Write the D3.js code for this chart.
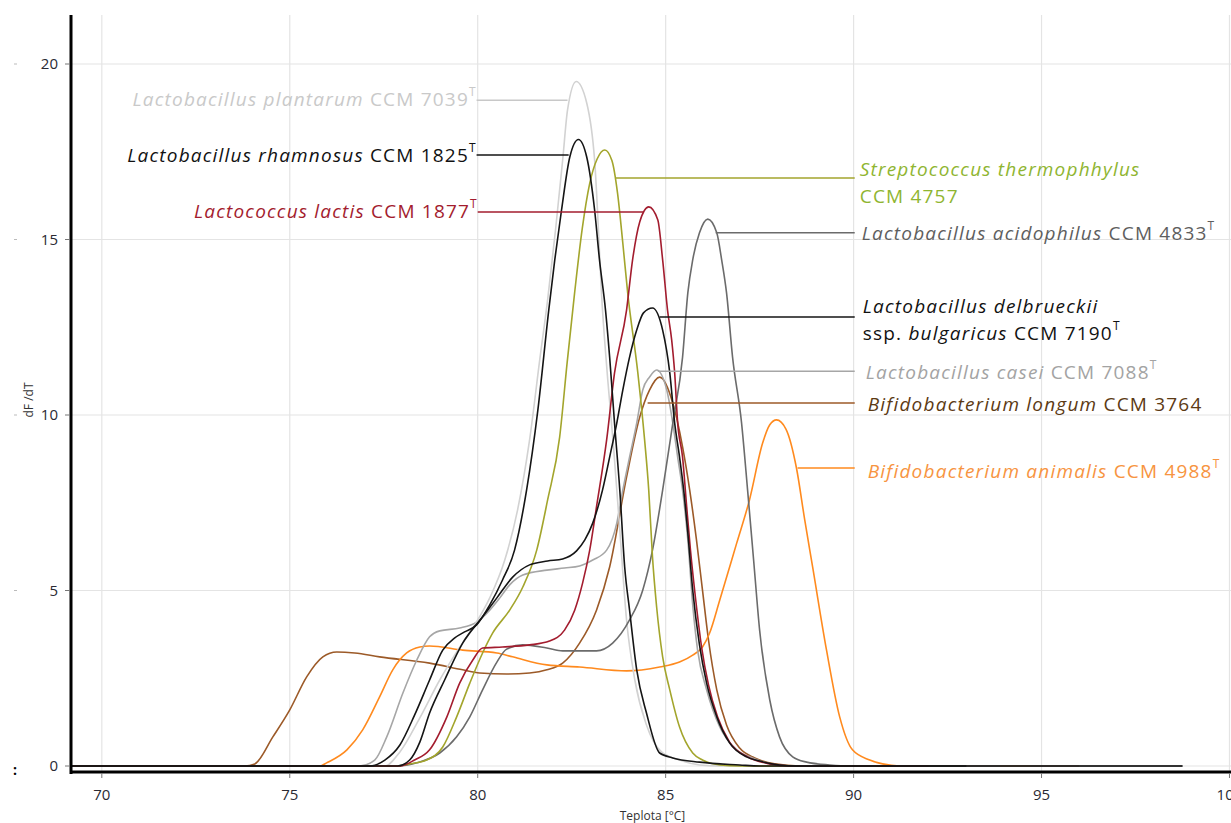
<!DOCTYPE html>
<html>
<head>
<meta charset="utf-8">
<script src="https://cdn.jsdelivr.net/npm/d3@7"></script>
<style>
  body { margin: 0; background: #fff; }
  svg { display: block; font-family: "Open Sans", sans-serif; }
</style>
</head>
<body>
<svg id="chart" width="1231" height="823"></svg>
<script>
// melting curves, [temperature °C, dF/dT]
const xTicks = [70, 75, 80, 85, 90, 95, 100];
const yTicks = [0, 5, 10, 15, 20];

const longum = [[69.2,0],[73.8,0],[74.07,0.06],[74.55,0.83],[75.0,1.6],[75.45,2.54],[75.88,3.11],[76.25,3.25],[76.73,3.22],
  [77.39,3.11],[78.72,2.93],[79.6,2.74],[80.05,2.65],[80.77,2.62],[81.38,2.65],[81.84,2.74],[82.26,2.93],[82.71,3.5],
  [83.16,4.44],[83.51,5.67],[83.96,8.23],[84.31,9.94],[84.57,10.71],[84.84,11.08],[85.19,10.34],[85.45,9.09],[85.64,7.86],
  [85.82,6.44],[85.98,5.01],[86.14,3.59],[86.36,2.17],[86.62,1.17],[86.97,0.51],[87.37,0.23],[87.9,0.06],[88.56,0],[96.0,0]];

const animalis = [[69.2,0],[75.8,0],[75.98,0.09],[76.52,0.46],[76.94,1.03],[77.39,1.97],[77.74,2.74],[78.11,3.22],[78.46,3.39],
  [78.72,3.42],[79.6,3.3],[80.51,3.22],[80.93,3.11],[81.84,2.88],[82.71,2.82],[83.96,2.71],[84.84,2.82],[85.37,2.96],
  [85.72,3.16],[85.98,3.39],[86.17,3.79],[86.44,4.73],[86.89,6.35],[87.23,7.58],[87.58,9.2],[87.77,9.72],[87.95,9.86],
  [88.2,9.6],[88.48,8.49],[88.7,7.01],[88.91,5.67],[89.28,3.3],[89.63,1.4],[89.97,0.46],[90.43,0.17],[90.77,0.06],
  [91.22,0],[94.7,0]];

const casei = [[69.2,0],[76.86,0],[77.26,0.17],[77.58,0.83],[78.01,2.08],[78.38,3.02],[78.72,3.68],[78.99,3.85],[79.52,3.93],
  [79.97,4.1],[80.32,4.44],[80.59,4.79],[80.85,5.16],[81.2,5.44],[81.84,5.58],[82.31,5.64],[82.71,5.7],[83.06,5.87],
  [83.43,6.15],[83.7,6.92],[83.86,7.86],[84.04,8.8],[84.23,9.77],[84.39,10.71],[84.57,11.08],[84.76,11.28],[85.03,10.71],
  [85.19,9.77],[85.32,8.8],[85.45,7.86],[85.59,6.44],[85.72,4.59],[85.85,3.3],[86.09,2.17],[86.44,1.11],[86.89,0.46],
  [87.31,0.23],[87.77,0.06],[88.3,0],[93.9,0]];

const plantarum = [[69.2,0],[77.53,0],[77.93,0.4],[78.46,1.37],[78.99,2.45],[79.47,3.3],[79.92,4.02],[80.32,4.79],[80.72,5.87],
  [81.06,7.29],[81.38,9.29],[81.65,11.57],[81.86,13.28],[82.07,15.27],[82.26,17.26],[82.39,18.69],[82.62,19.5],[82.9,18.89],
  [83.11,17.26],[83.32,12.99],[83.46,11.0],[83.62,9.0],[83.78,6.72],[83.96,4.16],[84.18,2.45],[84.49,1.17],[84.89,0.4],
  [85.37,0.17],[85.9,0.03],[86.44,0],[92.0,0]];

const acidophilus = [[69.2,0],[77.85,0],[78.38,0.09],[78.99,0.37],[79.44,0.83],[79.79,1.4],[80.13,2.17],[80.51,2.96],[80.77,3.33],
  [81.2,3.45],[81.84,3.36],[82.26,3.28],[83.16,3.28],[83.59,3.5],[84.04,4.16],[84.39,5.01],[84.65,6.15],[84.92,7.86],
  [85.19,9.77],[85.45,11.65],[85.59,13.48],[85.72,14.42],[85.9,15.19],[86.12,15.58],[86.36,15.19],[86.49,14.42],[86.62,13.48],
  [86.78,11.65],[87.02,9.77],[87.18,7.86],[87.34,5.87],[87.5,3.87],[87.77,1.88],[88.03,0.83],[88.38,0.26],[88.75,0.11],
  [89.36,0.03],[89.89,0],[98.75,0]];

const thermophilus = [[69.2,0],[77.79,0],[78.19,0.06],[78.64,0.17],[79.07,0.54],[79.44,1.4],[79.79,2.36],[80.13,3.22],[80.4,3.79],
  [80.85,4.44],[81.2,5.1],[81.57,6.15],[81.86,7.58],[82.18,9.37],[82.38,11.5],[82.58,13.5],[82.78,15.3],[82.98,16.6],
  [83.18,17.3],[83.38,17.55],[83.57,17.25],[83.72,16.32],[83.86,14.9],[83.99,13.48],[84.26,11.2],[84.44,9.29],[84.55,7.86],
  [84.65,5.95],[84.76,4.53],[84.92,3.11],[85.11,2.17],[85.37,1.11],[85.72,0.37],[85.98,0.17],[86.44,0.03],[86.97,0],[90.56,0]];

const lactis = [[69.2,0],[77.93,0],[78.32,0.17],[78.72,0.46],[79.18,1.4],[79.52,2.36],[79.87,3.02],[80.13,3.36],[80.66,3.39],
  [81.38,3.45],[81.91,3.56],[82.31,3.87],[82.58,4.44],[82.79,5.21],[82.98,6.15],[83.16,7.38],[83.43,9.29],[83.64,11.2],
  [83.96,12.99],[84.12,14.42],[84.31,15.5],[84.55,15.93],[84.79,15.56],[84.92,14.42],[85.05,12.99],[85.16,12.14],[85.24,11.2],
  [85.32,9.77],[85.45,8.8],[85.56,7.38],[85.66,6.15],[85.8,4.73],[85.96,3.36],[86.14,2.31],[86.38,1.4],[86.7,0.68],
  [87.18,0.26],[87.77,0.06],[88.3,0],[92.0,0]];

const delbrueckii = [[69.2,0],[77.87,0],[78.19,0.17],[78.46,0.68],[78.72,1.51],[79.12,2.45],[79.6,3.5],[80.13,4.25],[80.51,4.79],
  [80.93,5.38],[81.38,5.73],[81.86,5.84],[82.26,5.9],[82.63,6.13],[82.85,6.44],[83.06,6.92],[83.32,7.86],[83.51,8.8],
  [83.7,9.77],[83.86,10.71],[84.04,11.65],[84.23,12.42],[84.41,12.91],[84.65,13.05],[84.92,12.42],[85.11,11.2],[85.24,9.77],
  [85.37,8.8],[85.48,7.86],[85.59,6.64],[85.72,5.01],[85.9,3.45],[86.09,2.36],[86.36,1.4],[86.7,0.66],[87.15,0.26],
  [87.5,0.14],[88.03,0.03],[88.5,0],[98.75,0]];

const rhamnosus = [[69.2,0],[77.13,0],[77.53,0.17],[77.93,0.6],[78.32,1.45],[78.72,2.45],[79.07,3.3],[79.39,3.65],[79.65,3.82],
  [79.97,4.02],[80.32,4.59],[80.66,5.3],[80.98,6.15],[81.3,7.86],[81.6,10.14],[81.89,12.99],[82.05,14.42],[82.23,15.84],
  [82.45,17.35],[82.68,17.85],[82.9,17.35],[83.11,15.84],[83.24,14.42],[83.4,12.99],[83.51,11.65],[83.64,9.77],[83.78,7.86],
  [83.91,5.67],[84.04,4.44],[84.23,2.74],[84.49,1.51],[84.84,0.37],[85.19,0.23],[85.9,0.11],[86.97,0.03],[87.5,0],[93.0,0]];

// draw order, back to front
const seriesOrder = ["longum", "animalis", "casei", "plantarum", "acidophilus", "thermophilus", "lactis", "delbrueckii", "rhamnosus"];
const seriesData = {longum, animalis, casei, plantarum, acidophilus, thermophilus, lactis, delbrueckii, rhamnosus};

const lineColor = {
  longum: "#9c5a28", animalis: "#ff8a1e", casei: "#a6a6a6", plantarum: "#d2d2d2", acidophilus: "#6b6b6b",
  thermophilus: "#a3a52c", lactis: "#a31c2e", delbrueckii: "#151515", rhamnosus: "#151515"
};
const textColor = {
  longum: "#5c3a14", animalis: "#f79441", casei: "#a3a3a3", plantarum: "#c9c9c9", acidophilus: "#5e5e5e",
  thermophilus: "#8fb531", lactis: "#a31c2e", delbrueckii: "#111", rhamnosus: "#111"
};

// label text: [text, style] 1 = italic, 0 = plain, 2 = superscript
const labelText = {
  plantarum:    [[["Lactobacillus plantarum", 1], [" CCM 7039", 0], ["T", 2]]],
  rhamnosus:    [[["Lactobacillus rhamnosus", 1], [" CCM 1825", 0], ["T", 2]]],
  lactis:       [[["Lactococcus lactis", 1], [" CCM 1877", 0], ["T", 2]]],
  thermophilus: [[["Streptococcus thermophhylus", 1]], [["CCM 4757", 0]]],
  acidophilus:  [[["Lactobacillus acidophilus", 1], [" CCM 4833", 0], ["T", 2]]],
  delbrueckii:  [[["Lactobacillus delbrueckii", 1]], [["ssp. ", 0], ["bulgaricus", 1], [" CCM 7190", 0], ["T", 2]]],
  casei:        [[["Lactobacillus casei", 1], [" CCM 7088", 0], ["T", 2]]],
  longum:       [[["Bifidobacterium longum", 1], [" CCM 3764", 0]]],
  animalis:     [[["Bifidobacterium animalis", 1], [" CCM 4988", 0], ["T", 2]]]
};

// callout leader lines: [T start, T end, dF/dT level]
const callouts = {
  plantarum:    [79.97, 82.39, 18.97],
  rhamnosus:    [79.97, 82.42, 17.41],
  lactis:       [80.0, 84.41, 15.78],
  thermophilus: [83.67, 90.03, 16.75],
  acidophilus:  [86.33, 90.03, 15.19],
  delbrueckii:  [84.84, 90.03, 12.79],
  casei:        [84.79, 90.03, 11.25],
  longum:       [84.52, 90.03, 10.34],
  animalis:     [88.51, 90.03, 8.49]
};

const svg = d3.select("#chart");

let x = d3.scaleLinear().domain([69.18, 100.2]).range([71, 1237]);
let y = d3.scaleLinear().domain([0, 20]).range([766, 64]);

const plotTop = 15, plotBottom = 772, plotLeft = 71, plotRight = 1231;

// grid
svg.append("g").selectAll("line").data(xTicks).join("line")
  .attr("x1", d => x(d)).attr("x2", d => x(d))
  .attr("y1", plotTop).attr("y2", plotBottom)
  .attr("stroke", "#e4e4e4").attr("stroke-width", 1.2);
svg.append("g").selectAll("line").data(yTicks).join("line")
  .attr("x1", plotLeft).attr("x2", plotRight)
  .attr("y1", d => y(d)).attr("y2", d => y(d))
  .attr("stroke", "#e4e4e4").attr("stroke-width", 1.2);

// curves
let line = d3.line()
  .x(d => x(d[0]))
  .y(d => y(d[1]))
  .curve(d3.curveMonotoneX);

svg.append("g").selectAll("path").data(seriesOrder).join("path")
  .attr("d", k => line(seriesData[k]))
  .attr("fill", "none")
  .attr("stroke", k => lineColor[k])
  .attr("stroke-width", 1.6);

// callout lines
svg.append("g").selectAll("line").data(seriesOrder).join("line")
  .attr("x1", k => x(callouts[k][0])).attr("x2", k => x(callouts[k][1]))
  .attr("y1", k => y(callouts[k][2])).attr("y2", k => y(callouts[k][2]))
  .attr("stroke", k => lineColor[k] === "#d2d2d2" ? "#c8c8c8" : lineColor[k])
  .attr("stroke-width", 1.5);

// labels
const labelLayout = {
  plantarum:    {side: "left", dy: 6},
  rhamnosus:    {side: "left", dy: 7},
  lactis:       {side: "left", dy: 6},
  thermophilus: {side: "right", dx: 5, dy: -2},
  acidophilus:  {side: "right", dx: 7, dy: 7},
  delbrueckii:  {side: "right", dx: 8, dy: -4},
  casei:        {side: "right", dx: 11, dy: 8},
  longum:       {side: "right", dx: 13, dy: 8},
  animalis:     {side: "right", dx: 13, dy: 10}
};

const lineGap = 27;
const labelG = svg.append("g").attr("font-size", 19).attr("letter-spacing", 1.2);

seriesOrder.forEach(k => {
  const lay = labelLayout[k];
  const c = callouts[k];
  const left = lay.side === "left";
  const tx = left ? x(c[0]) - 1 : x(c[1]) + lay.dx;
  const ty = y(c[2]) + lay.dy;
  labelText[k].forEach((parts, li) => {
    const t = labelG.append("text")
      .attr("x", tx).attr("y", ty + li * lineGap)
      .attr("fill", textColor[k])
      .attr("text-anchor", left ? "end" : "start");
    parts.forEach(p => {
      const s = t.append("tspan").text(p[0]);
      if (p[1] === 1) s.attr("font-style", "italic");
      if (p[1] === 2) {
        s.attr("font-size", 12).attr("dy", -10).attr("dx", 0).attr("letter-spacing", 0);
      }
    });
  });
});

// axes
svg.append("line").attr("x1", plotLeft).attr("x2", plotLeft)
  .attr("y1", plotTop).attr("y2", plotBottom + 2)
  .attr("stroke", "#000").attr("stroke-width", 3);
svg.append("line").attr("x1", plotLeft - 1).attr("x2", plotRight)
  .attr("y1", plotBottom).attr("y2", plotBottom)
  .attr("stroke", "#000").attr("stroke-width", 3);

let yAxis = svg.append("g");
yAxis.selectAll("line").data(yTicks).join("line")
  .attr("x1", 65).attr("x2", 70)
  .attr("y1", d => y(d)).attr("y2", d => y(d))
  .attr("stroke", "#777");
yAxis.selectAll("text").data(yTicks).join("text")
  .attr("x", 58).attr("y", d => y(d) + 5)
  .attr("text-anchor", "end")
  .attr("font-size", 15).attr("fill", "#2a2a33")
  .text(d => d);
// stray marks at the far left
yAxis.selectAll("line.stray").data(yTicks.slice(1)).join("line")
  .attr("class", "stray")
  .attr("x1", 14).attr("x2", 17)
  .attr("y1", d => y(d)).attr("y2", d => y(d))
  .attr("stroke", "#bbb");
svg.append("text").attr("x", 13).attr("y", 775).attr("font-size", 14).attr("font-weight", "bold").text(":");

let xAxis = svg.append("g");
xAxis.selectAll("line").data(xTicks).join("line")
  .attr("x1", d => x(d)).attr("x2", d => x(d))
  .attr("y1", plotBottom + 1).attr("y2", plotBottom + 6)
  .attr("stroke", "#777");
xAxis.selectAll("text").data(xTicks).join("text")
  .attr("x", d => x(d)).attr("y", 800)
  .attr("text-anchor", "middle")
  .attr("font-size", 15).attr("fill", "#2a2a33")
  .text(d => d);

svg.append("text")
  .attr("x", x(84.65)).attr("y", 820)
  .attr("text-anchor", "middle")
  .attr("font-size", 12).attr("fill", "#333")
  .text("Teplota [°C]");

svg.append("text")
  .attr("transform", "translate(33,400) rotate(-90)")
  .attr("text-anchor", "middle")
  .attr("font-size", 12).attr("fill", "#333")
  .text("dF /dT");
</script>
</body>
</html>
